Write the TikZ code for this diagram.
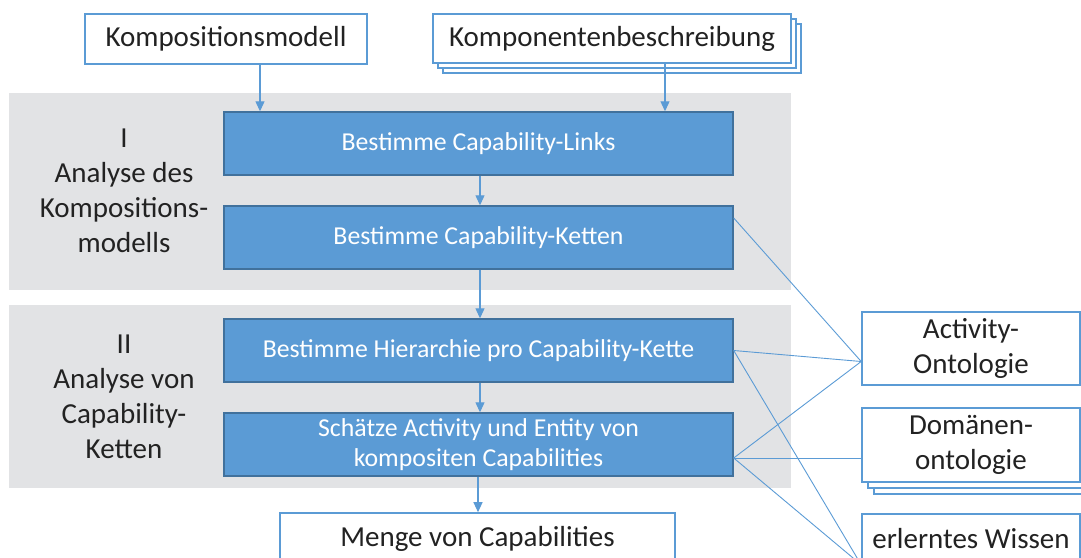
\documentclass[tikz,border=0pt]{standalone}
\usepackage{fontspec}
\setmainfont{Carlito}
\usetikzlibrary{arrows.meta}
\definecolor{bfill}{HTML}{5B9BD5}
\definecolor{bdraw}{HTML}{41719C}
\definecolor{lblue}{HTML}{5B9BD5}
\definecolor{panel}{HTML}{E2E3E5}
\definecolor{txt}{HTML}{222222}
\tikzset{
  wbox/.style={draw=lblue, line width=1.6pt, fill=white, inner sep=0pt, text=txt,
    font=\fontsize{29}{35}\selectfont, align=center},
  bbox/.style={draw=bdraw, line width=1.4pt, fill=bfill, inner sep=0pt, text=white,
    font=\fontsize{25.8}{30}\selectfont, align=center,
    minimum width=509pt, minimum height=63pt},
  lbl/.style={text=txt, font=\fontsize{29}{35}\selectfont, align=center},
  arr/.style={draw=lblue, line width=1.1pt, -{Triangle[length=10pt,width=9pt]}},
  con/.style={draw=lblue, line width=0.9pt},
}
\begin{document}
\begin{tikzpicture}[x=1pt,y=-1pt]
\useasboundingbox (0,0) rectangle (1081,557);
% panels
\fill[panel] (9,93) rectangle (791,290);
\fill[panel] (9,305) rectangle (791,488);
\node[lbl] (l1) at (124,191) {I\\Analyse des\\Kompositions-\\modells};
\node[lbl] (l2) at (124,397) {II\\Analyse von\\Capability-\\Ketten};
% top inputs
\node[wbox, minimum width=282pt, minimum height=50pt] (km) at (226,39) {Kompositionsmodell};
\draw[draw=lblue, line width=1.6pt, fill=white] (443,24) rectangle (801,73);
\draw[draw=lblue, line width=1.6pt, fill=white] (438,19) rectangle (796,68);
\node[wbox, minimum width=358pt, minimum height=49pt] (kb) at (612,38.5) {Komponentenbeschreibung};
% blue boxes
\node[bbox] (b1) at (478.5,143.5) {Bestimme Capability-Links};
\node[bbox] (b2) at (478.5,237.5) {Bestimme Capability-Ketten};
\node[bbox] (b3) at (478.5,350.5) {Bestimme Hierarchie pro Capability-Kette};
\node[bbox] (b4) at (478.5,444.5) {Schätze Activity und Entity von\\kompositen Capabilities};
% outputs
\node[wbox, minimum width=395pt, minimum height=52pt] (mg) at (477.5,539) {Menge von Capabilities};
% right resources
\node[wbox, minimum width=218pt, minimum height=73pt] (act) at (971,348.5) {Activity-\\Ontologie};
\draw[draw=lblue, line width=1.6pt, fill=white] (874,420) rectangle (1095,494);
\draw[draw=lblue, line width=1.6pt, fill=white] (868,414) rectangle (1089,488);
\node[wbox, minimum width=218pt, minimum height=74pt] (dom) at (971,445) {Domänen-\\ontologie};
\node[wbox, minimum width=218pt, minimum height=50pt] (erl) at (971,539) {erlerntes Wissen};
% coordinates for arrow x positions
\coordinate (xa) at (260,0);
\coordinate (xb) at (665,0);
\coordinate (xc) at (480,0);
\coordinate (xd) at (478,0);
% arrows
\draw[arr] (km.south -| xa) -- (b1.north -| xa);
\draw[arr] (kb.south -| xb) -- (b1.north -| xb);
\draw[arr] (b1.south -| xc) -- (b2.north -| xc);
\draw[arr] (b2.south -| xc) -- (b3.north -| xc);
\draw[arr] (b3.south -| xc) -- (b4.north -| xc);
\draw[arr] (b4.south -| xd) -- (mg.north -| xd);
% connectors
\coordinate (actin) at ([yshift=-13pt]act.west);
\draw[con] ([yshift=19.5pt]b2.east) -- (actin);
\draw[con] (b3.east) -- (actin);
\draw[con] ([yshift=-13.5pt]b4.east) -- (actin);
\draw[con] ([yshift=-13.5pt]b4.east) -- ([yshift=-13pt]dom.west);
\draw[con] (b3.east) -- (erl.south west);
\draw[con] ([yshift=-13.5pt]b4.east) -- (erl.south west);
\end{tikzpicture}
\end{document}
